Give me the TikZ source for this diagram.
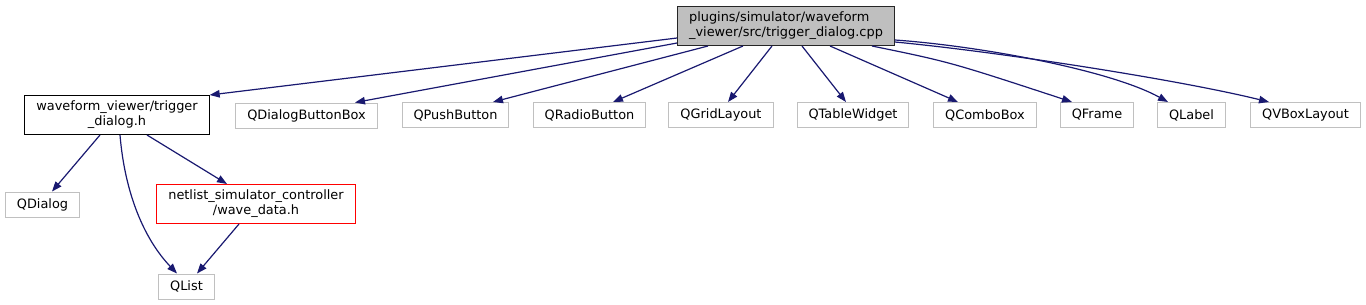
\documentclass[tikz,border=0pt]{standalone}
\usepackage{fontspec}
\setmainfont{DejaVu Sans}
\usetikzlibrary{arrows.meta,positioning,calc}
\definecolor{edgeblue}{HTML}{191970}
\definecolor{rootgray}{HTML}{BFBFBF}
\definecolor{extgray}{HTML}{C0C0C0}
\tikzset{
  rootfile/.style={rectangle, draw=black!85, fill=rootgray, line width=1pt, align=left, minimum height=39pt, inner xsep=11.5pt, font=\fontsize{12.9pt}{15pt}\selectfont},
  header/.style={rectangle, draw=black, fill=white, line width=1pt, align=center, minimum height=39pt, inner xsep=11.5pt, font=\fontsize{12.9pt}{15pt}\selectfont},
  redheader/.style={header, draw=red},
  extclass/.style={rectangle, draw=extgray, fill=white, line width=1pt, minimum height=25pt, inner xsep=11.5pt, font=\fontsize{12.9pt}{15pt}\selectfont},
  deparrow/.style={-{Triangle[length=10pt, width=7.5pt]}, line width=1.2pt, edgeblue}
}
\begin{document}
\begin{tikzpicture}[x=1pt, y=-1pt]
  \useasboundingbox (0,0) rectangle (1366,305);
  % top level file
  \node[rootfile] (root) at (786,26) {plugins/simulator/waveform\\\_viewer/src/trigger\_dialog.cpp};
  % direct includes
  \node[header] (trigdlg) at (117,115) {waveform\_viewer/trigger\\\_dialog.h};
  \node[extclass] (qdbb) at (306.5,115.5) {QDialogButtonBox};
  \node[extclass] (qpush) at (455.5,115) {QPushButton};
  \node[extclass] (qradio) at (589.5,115) {QRadioButton};
  \node[extclass] (qgrid) at (721,115) {QGridLayout};
  \node[extclass] (qtable) at (853,115) {QTableWidget};
  \node[extclass] (qcombo) at (985,115) {QComboBox};
  \node[extclass] (qframe) at (1097,115) {QFrame};
  \node[extclass] (qlabel) at (1191.5,115) {QLabel};
  \node[extclass] (qvbox) at (1305.5,115) {QVBoxLayout};
  % second level
  \node[extclass] (qdialog) at (42.5,204.5) {QDialog};
  \node[redheader] (wavedata) at (256,204) {netlist\_simulator\_controller\\/wave\_data.h};
  \node[extclass] (qlist) at (186.5,286.5) {QList};
  % edges from the cpp file
  \draw[deparrow] ([yshift=-12pt]root.west) -- (trigdlg.north east);
  \draw[deparrow] ([yshift=-17pt]root.west) -- ([xshift=48.5pt]qdbb.north);
  \draw[deparrow] ([xshift=-78pt]root.south) -- ([xshift=37.5pt]qpush.north);
  \draw[deparrow] ([xshift=-43pt]root.south) -- ([xshift=23.5pt]qradio.north);
  \draw[deparrow] ([xshift=-14pt]root.south) -- ([xshift=7pt]qgrid.north);
  \draw[deparrow] ([xshift=16pt]root.south) -- ([xshift=-7pt]qtable.north);
  \draw[deparrow] ([xshift=44pt]root.south) -- ([xshift=-27pt]qcombo.north);
  \draw[deparrow] ([xshift=86pt]root.south) .. controls (950,62) .. ([xshift=-25pt]qframe.north);
  \draw[deparrow] ([yshift=-14pt]root.east) .. controls (980,46) and (1110,70) .. ([xshift=-23.5pt]qlabel.north);
  \draw[deparrow] ([yshift=-16pt]root.east) .. controls (1000,52) and (1180,80) .. ([xshift=-36.5pt]qvbox.north);
  % edges from the header
  \draw[deparrow] ([xshift=-17pt]trigdlg.south) -- ([xshift=9.5pt]qdialog.north);
  \draw[deparrow] ([xshift=3pt]trigdlg.south) .. controls (125,195) and (145,240) .. ([xshift=-9.5pt]qlist.north);
  \draw[deparrow] ([xshift=30pt]trigdlg.south) -- ([xshift=-29pt]wavedata.north);
  \draw[deparrow] ([xshift=-17pt]wavedata.south) -- ([xshift=10.5pt]qlist.north);
\end{tikzpicture}
\end{document}
